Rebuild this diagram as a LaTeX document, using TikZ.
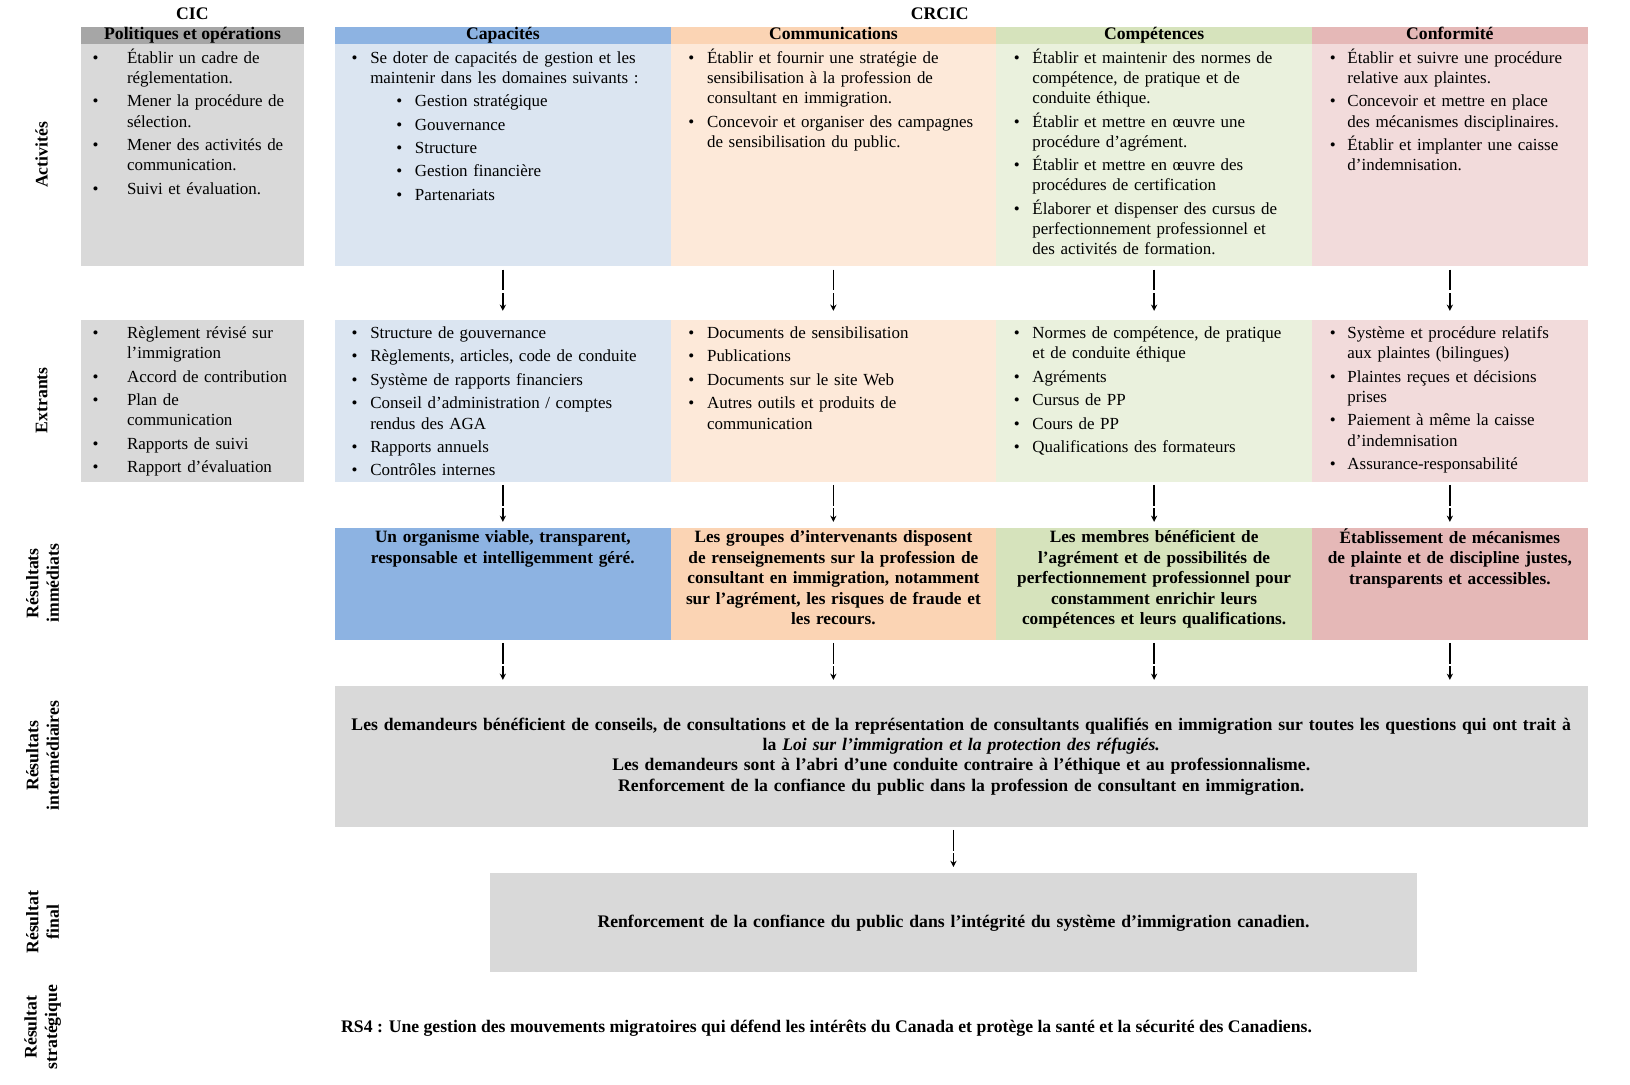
\documentclass[tikz,border=0pt]{standalone}
\usepackage{fontspec}
\setmainfont{Liberation Serif}
\usepackage{tikz}
\usetikzlibrary{arrows.meta}
\definecolor{cicdark}{HTML}{A6A6A6}
\definecolor{cicgray}{HTML}{D9D9D9}
\definecolor{capblue}{HTML}{8DB3E2}
\definecolor{caplight}{HTML}{DBE5F1}
\definecolor{comorange}{HTML}{FBD4B4}
\definecolor{comlight}{HTML}{FDE9D9}
\definecolor{cptgreen}{HTML}{D6E3BC}
\definecolor{cptlight}{HTML}{EAF1DD}
\definecolor{cnfpink}{HTML}{E5B8B7}
\definecolor{cnflight}{HTML}{F2DBDB}
\newlength\bind
\newcommand\cellfont{\fontsize{16.3}{19.5}\selectfont}
\newcommand\immfont{\fontsize{16.6}{19.7}\selectfont\bfseries}
\newcommand\strongfont{\fontsize{17}{19.7}\selectfont\bfseries}
\newcommand\litem[2][0pt]{\par\hangindent=\dimexpr#1+\bind\relax\hangafter=1\noindent\hspace*{#1}\makebox[\bind][l]{\textbullet}\strut#2}

\begin{document}
\begin{tikzpicture}[x=1pt, y=-1pt,
    cell/.style={anchor=north west, inner sep=0pt, fill=#1},
    hdr/.style={cell=#1, minimum height=16pt, text height=10pt, text depth=3pt, font=\strongfont},
    listtxt/.style 2 args={anchor=north west, inner sep=0pt, text width=#1, align=left, font=\cellfont,
      execute at begin node={\setlength{\parskip}{3pt}\setlength{\bind}{#2}}},
    immtxt/.style={anchor=north, inner sep=0pt, text width=#1, align=center, font=\immfont},
    rowlbl/.style={rotate=90, inner sep=0pt, align=center, font=\strongfont},
    flow/.style={-{Stealth[length=6pt,width=6pt]}, line width=1.3pt, dash pattern=on 20pt off 2.5pt on 100pt, shorten <=3pt, shorten >=6pt}]
    \useasboundingbox (0,0) rectangle (1568,1043);

    % Titles and column headers
    \node[font=\strongfont] (t-cic) at (185,13) {CIC};
    \node[font=\strongfont] (t-crcic) at (904,13) {CRCIC};
    \node[hdr=cicdark, minimum width=214pt] (hd-cic) at (78,26) {Politiques et opérations};
    \node[hdr=capblue, minimum width=323pt] (hd-cap) at (322,26) {Capacités};
    \node[hdr=comorange, minimum width=313pt] (hd-com) at (645,26) {Communications};
    \node[hdr=cptgreen, minimum width=304pt] (hd-cpt) at (958,26) {Compétences};
    \node[hdr=cnfpink, minimum width=265pt] (hd-cnf) at (1262,26) {Conformité};

    % Row labels
    \node[rowlbl] (lbl-act) at (40,149) {Activités};
    \node[rowlbl] (lbl-out) at (40,385) {Extrants};
    \node[rowlbl] (lbl-imm) at (41,561) {Résultats\\immédiats};
    \node[rowlbl] (lbl-int) at (41,727) {Résultats\\intermédiaires};
    \node[rowlbl] (lbl-fin) at (41,887) {Résultat\\final};
    \node[rowlbl] (lbl-str) at (41,988) {Résultat\\stratégique};

    % Activities
    \node[cell=cicgray, minimum width=214pt, minimum height=214pt] (act-cic) at (78,42) {};
    \node[cell=caplight, minimum width=323pt, minimum height=214pt] (act-cap) at (322,42) {};
    \node[cell=comlight, minimum width=313pt, minimum height=214pt] (act-com) at (645,42) {};
    \node[cell=cptlight, minimum width=304pt, minimum height=214pt] (act-cpt) at (958,42) {};
    \node[cell=cnflight, minimum width=265pt, minimum height=214pt] (act-cnf) at (1262,42) {};
    \node[listtxt={200pt}{33pt}] (t-act-cic) at ([xshift=11pt,yshift=4pt]act-cic.north west) {%
      \litem{Établir un cadre de\newline réglementation.}
      \litem{Mener la procédure de\newline sélection.}
      \litem{Mener des activités de\newline communication.}
      \litem{Suivi et évaluation.}\par};
    \node[listtxt={300pt}{18pt}] (t-act-cap) at ([xshift=16pt,yshift=4pt]act-cap.north west) {%
      \litem{Se doter de capacités de gestion et les\newline maintenir dans les domaines suivants~:}
      \litem[43pt]{Gestion stratégique}
      \litem[43pt]{Gouvernance}
      \litem[43pt]{Structure}
      \litem[43pt]{Gestion financière}
      \litem[43pt]{Partenariats}\par};
    \node[listtxt={290pt}{18pt}] (t-act-com) at ([xshift=17pt,yshift=4pt]act-com.north west) {%
      \litem{Établir et fournir une stratégie de\newline sensibilisation à la profession de\newline consultant en immigration.}
      \litem{Concevoir et organiser des campagnes\newline de sensibilisation du public.}\par};
    \node[listtxt={284pt}{18pt}] (t-act-cpt) at ([xshift=17pt,yshift=4pt]act-cpt.north west) {%
      \litem{Établir et maintenir des normes de\newline compétence, de pratique et de\newline conduite éthique.}
      \litem{Établir et mettre en œuvre une\newline procédure d’agrément.}
      \litem{Établir et mettre en œuvre des\newline procédures de certification}
      \litem{Élaborer et dispenser des cursus de\newline perfectionnement professionnel et\newline des activités de formation.}\par};
    \node[listtxt={246pt}{17pt}] (t-act-cnf) at ([xshift=17pt,yshift=4pt]act-cnf.north west) {%
      \litem{Établir et suivre une procédure\newline relative aux plaintes.}
      \litem{Concevoir et mettre en place\newline des mécanismes disciplinaires.}
      \litem{Établir et implanter une caisse\newline d’indemnisation.}\par};

    % Outputs
    \node[cell=cicgray, minimum width=214pt, minimum height=155pt] (out-cic) at (78,308) {};
    \node[cell=caplight, minimum width=323pt, minimum height=155pt] (out-cap) at (322,308) {};
    \node[cell=comlight, minimum width=313pt, minimum height=155pt] (out-com) at (645,308) {};
    \node[cell=cptlight, minimum width=304pt, minimum height=155pt] (out-cpt) at (958,308) {};
    \node[cell=cnflight, minimum width=265pt, minimum height=155pt] (out-cnf) at (1262,308) {};
    \node[listtxt={200pt}{33pt}] (t-out-cic) at ([xshift=11pt,yshift=5pt]out-cic.north west) {%
      \litem{Règlement révisé sur\newline l’immigration}
      \litem{Accord de contribution}
      \litem{Plan de\newline communication}
      \litem{Rapports de suivi}
      \litem{Rapport d’évaluation}\par};
    \node[listtxt={300pt}{18pt}] (t-out-cap) at ([xshift=16pt,yshift=5pt]out-cap.north west) {%
      \litem{Structure de gouvernance}
      \litem{Règlements, articles, code de conduite}
      \litem{Système de rapports financiers}
      \litem{Conseil d’administration / comptes\newline rendus des AGA}
      \litem{Rapports annuels}
      \litem{Contrôles internes}\par};
    \node[listtxt={290pt}{18pt}] (t-out-com) at ([xshift=17pt,yshift=5pt]out-com.north west) {%
      \litem{Documents de sensibilisation}
      \litem{Publications}
      \litem{Documents sur le site Web}
      \litem{Autres outils et produits de\newline communication}\par};
    \node[listtxt={284pt}{18pt}] (t-out-cpt) at ([xshift=17pt,yshift=5pt]out-cpt.north west) {%
      \litem{Normes de compétence, de pratique\newline et de conduite éthique}
      \litem{Agréments}
      \litem{Cursus de PP}
      \litem{Cours de PP}
      \litem{Qualifications des formateurs}\par};
    \node[listtxt={246pt}{17pt}] (t-out-cnf) at ([xshift=17pt,yshift=5pt]out-cnf.north west) {%
      \litem{Système et procédure relatifs\newline aux plaintes (bilingues)}
      \litem{Plaintes reçues et décisions\newline prises}
      \litem{Paiement à même la caisse\newline d’indemnisation}
      \litem{Assurance-responsabilité}\par};

    % Immediate outcomes
    \node[cell=capblue, minimum width=323pt, minimum height=107pt] (imm-cap) at (322,508) {};
    \node[cell=comorange, minimum width=313pt, minimum height=107pt] (imm-com) at (645,508) {};
    \node[cell=cptgreen, minimum width=304pt, minimum height=107pt] (imm-cpt) at (958,508) {};
    \node[cell=cnfpink, minimum width=265pt, minimum height=107pt] (imm-cnf) at (1262,508) {};
    \node[immtxt=314pt] (t-imm-cap) at (imm-cap.north) {\strut Un organisme viable, transparent,\\ responsable et intelligemment géré.};
    \node[immtxt=308pt] (t-imm-com) at (imm-com.north) {\strut Les groupes d’intervenants disposent\\ de renseignements sur la profession de\\ consultant en immigration, notamment\\ sur l’agrément, les risques de fraude et\\ les recours.};
    \node[immtxt=300pt] (t-imm-cpt) at (imm-cpt.north) {\strut Les membres bénéficient de\\ l’agrément et de possibilités de\\ perfectionnement professionnel pour\\ constamment enrichir leurs\\ compétences et leurs qualifications.};
    \node[immtxt=262pt] (t-imm-cnf) at (imm-cnf.north) {\strut Établissement de mécanismes\\ de plainte et de discipline justes,\\ transparents et accessibles.};

    % Intermediate and final outcomes
    \node[cell=cicgray, minimum width=1205pt, minimum height=135pt, text width=1200pt, align=center, font=\strongfont] (inter) at (322,660) {Les demandeurs bénéficient de conseils, de consultations et de la représentation de consultants qualifiés en immigration sur toutes les questions qui ont trait à\\ la \textit{Loi sur l’immigration et la protection des réfugiés.}\\ Les demandeurs sont à l’abri d’une conduite contraire à l’éthique et au professionnalisme.\\ Renforcement de la confiance du public dans la profession de consultant en immigration.};
    \node[cell=cicgray, minimum width=892pt, minimum height=95pt, text width=880pt, align=center, font=\strongfont] (final) at (471,840) {Renforcement de la confiance du public dans l’intégrité du système d’immigration canadien.};
    \node[anchor=west, inner sep=0pt, font=\strongfont] (rs4) at (328,989) {RS4 : Une gestion des mouvements migratoires qui défend les intérêts du Canada et protège la santé et la sécurité des Canadiens.};

    % Arrows
    \draw[flow, shorten >=9pt] (act-cap.south) -- (out-cap.north);
    \draw[flow, shorten >=9pt] (act-com.south) -- (out-com.north);
    \draw[flow, shorten >=9pt] (act-cpt.south) -- (out-cpt.north);
    \draw[flow, shorten >=9pt] (act-cnf.south) -- (out-cnf.north);
    \draw[flow] (out-cap.south) -- (imm-cap.north);
    \draw[flow] (out-com.south) -- (imm-com.north);
    \draw[flow] (out-cpt.south) -- (imm-cpt.north);
    \draw[flow] (out-cnf.south) -- (imm-cnf.north);
    \draw[flow] (imm-cap.south) -- (imm-cap.south |- inter.north);
    \draw[flow] (imm-com.south) -- (imm-com.south |- inter.north);
    \draw[flow] (imm-cpt.south) -- (imm-cpt.south |- inter.north);
    \draw[flow] (imm-cnf.south) -- (imm-cnf.south |- inter.north);
    \draw[flow] (final.north |- inter.south) -- (final.north);
\end{tikzpicture}
\end{document}
